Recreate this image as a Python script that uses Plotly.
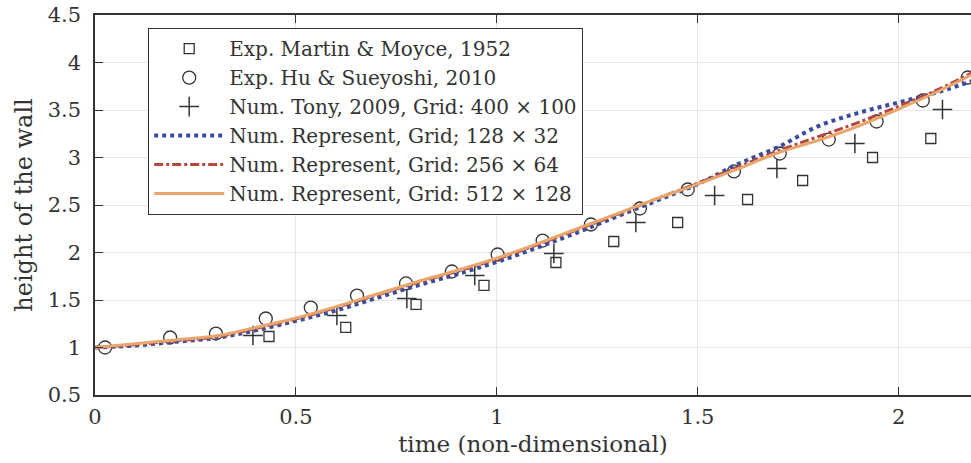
import plotly.graph_objects as go

# ---- data ----
mm_t = [0.433, 0.624, 0.799, 0.968, 1.147, 1.291, 1.450, 1.624, 1.761, 1.935, 2.080]
mm_h = [1.116, 1.211, 1.453, 1.653, 1.895, 2.116, 2.316, 2.558, 2.758, 3.000, 3.200]

hs_t = [0.025, 0.187, 0.301, 0.425, 0.537, 0.652, 0.774, 0.888, 1.002, 1.114,
        1.234, 1.356, 1.475, 1.590, 1.704, 1.826, 1.945, 2.060, 2.172]
hs_h = [1.000, 1.105, 1.147, 1.305, 1.420, 1.547, 1.674, 1.800, 1.979, 2.126,
        2.295, 2.463, 2.663, 2.853, 3.042, 3.189, 3.379, 3.600, 3.842]

tony_t = [0.393, 0.602, 0.776, 0.945, 1.142, 1.346, 1.542, 1.697, 1.891, 2.109]
tony_h = [1.126, 1.337, 1.516, 1.758, 1.989, 2.316, 2.600, 2.884, 3.147, 3.505]

t_line = [0.0, 0.1, 0.2, 0.3, 0.4, 0.5, 0.6, 0.7, 0.8, 0.9, 1.0, 1.1,
          1.2, 1.3, 1.4, 1.5, 1.6, 1.7, 1.8, 1.9, 2.0, 2.1, 2.2]
h_128 = [1.00, 1.02, 1.06, 1.10, 1.18, 1.28, 1.39, 1.52, 1.65, 1.77, 1.90, 2.05,
         2.21, 2.38, 2.55, 2.72, 2.93, 3.11, 3.33, 3.47, 3.58, 3.69, 3.83]
h_256 = [1.00, 1.03, 1.07, 1.11, 1.20, 1.30, 1.42, 1.55, 1.68, 1.80, 1.93, 2.08,
         2.24, 2.40, 2.57, 2.73, 2.90, 3.07, 3.22, 3.37, 3.54, 3.72, 3.93]
h_512 = [1.00, 1.04, 1.08, 1.12, 1.21, 1.31, 1.43, 1.56, 1.69, 1.81, 1.94, 2.09,
         2.25, 2.41, 2.57, 2.72, 2.88, 3.05, 3.18, 3.33, 3.51, 3.70, 3.91]

x_ticks = [0, 0.5, 1, 1.5, 2]
y_ticks = [0.5, 1, 1.5, 2, 2.5, 3, 3.5, 4, 4.5]

names = ["Exp. Martin &amp; Moyce, 1952",
         "Exp. Hu &amp; Sueyoshi, 2010",
         "Num. Tony, 2009, Grid: 400 × 100",
         "Num. Represent, Grid; 128 × 32",
         "Num. Represent, Grid: 256 × 64",
         "Num. Represent, Grid: 512 × 128"]

FONT = "DejaVu Serif"
INK = "#333333"

fig = go.Figure()
fig.add_trace(go.Scatter(x=mm_t, y=mm_h, mode="markers", name=names[0],
                         marker=dict(symbol="square-open", size=10, color=INK,
                                     line=dict(width=1.3, color=INK))))
fig.add_trace(go.Scatter(x=hs_t, y=hs_h, mode="markers", name=names[1],
                         marker=dict(symbol="circle-open", size=13, color=INK,
                                     line=dict(width=1.3, color=INK))))
fig.add_trace(go.Scatter(x=tony_t, y=tony_h, mode="markers", name=names[2],
                         marker=dict(symbol="cross-thin-open", size=14, color=INK,
                                     line=dict(width=1.5, color=INK))))
fig.add_trace(go.Scatter(x=t_line, y=h_128, mode="lines", name=names[3],
                         line=dict(color="#3a4c9c", width=4, dash="dot", shape="spline")))
fig.add_trace(go.Scatter(x=t_line, y=h_256, mode="lines", name=names[4],
                         line=dict(color="#b5473f", width=3, dash="dashdot", shape="spline")))
fig.add_trace(go.Scatter(x=t_line, y=h_512, mode="lines", name=names[5],
                         line=dict(color="#e8a56c", width=3, shape="spline")))

fig.update_layout(
    width=971, height=463,
    margin=dict(l=95, r=0, t=15, b=68),
    paper_bgcolor="white", plot_bgcolor="white",
    font=dict(family=FONT, size=20, color=INK),
    showlegend=True,
    legend=dict(x=0.0605, y=0.966, xanchor="left", yanchor="top",
                bgcolor="white", bordercolor=INK, borderwidth=1.2,
                font=dict(family=FONT, size=20, color=INK),
                itemwidth=70, tracegroupgap=0),
)
fig.update_xaxes(range=[0, 2.18], tickvals=x_ticks, ticks="inside", ticklen=8,
                 tickcolor=INK, showline=True, linecolor=INK, linewidth=1.5,
                 mirror="ticks", showgrid=True, gridcolor="#e6e6e6", gridwidth=1,
                 zeroline=False, tickfont=dict(size=21), ticklabelstandoff=2,
                 title=dict(text="time (non-dimensional)", standoff=8, font=dict(size=23)))
fig.update_yaxes(range=[0.5, 4.5], tickvals=y_ticks, ticks="inside", ticklen=8,
                 tickcolor=INK, showline=True, linecolor=INK, linewidth=1.5,
                 mirror=False, showgrid=True, gridcolor="#e6e6e6", gridwidth=1,
                 zeroline=False, tickfont=dict(size=21), ticklabelstandoff=8,
                 title=dict(text="height of the wall", standoff=8, font=dict(size=24)))

fig.write_html("out.html")
